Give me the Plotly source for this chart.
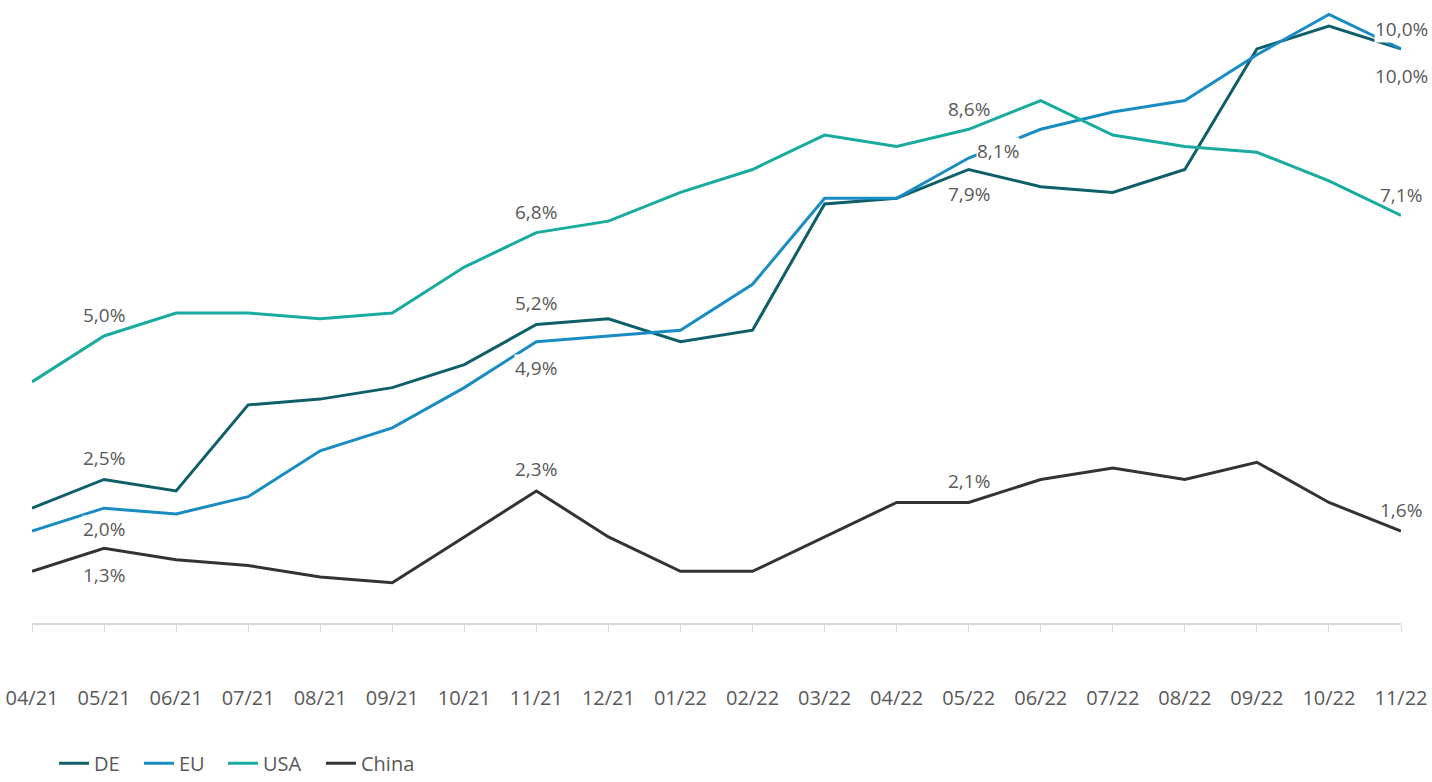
import plotly.graph_objects as go

months = ["04/21", "05/21", "06/21", "07/21", "08/21", "09/21", "10/21", "11/21", "12/21",
          "01/22", "02/22", "03/22", "04/22", "05/22", "06/22", "07/22", "08/22", "09/22",
          "10/22", "11/22"]
de = [2.0, 2.5, 2.3, 3.8, 3.9, 4.1, 4.5, 5.2, 5.3, 4.9, 5.1, 7.3, 7.4, 7.9, 7.6, 7.5, 7.9, 10.0, 10.4, 10.0]
eu = [1.6, 2.0, 1.9, 2.2, 3.0, 3.4, 4.1, 4.9, 5.0, 5.1, 5.9, 7.4, 7.4, 8.1, 8.6, 8.9, 9.1, 9.9, 10.6, 10.0]
usa = [4.2, 5.0, 5.4, 5.4, 5.3, 5.4, 6.2, 6.8, 7.0, 7.5, 7.9, 8.5, 8.3, 8.6, 9.1, 8.5, 8.3, 8.2, 7.7, 7.1]
china = [0.9, 1.3, 1.1, 1.0, 0.8, 0.7, 1.5, 2.3, 1.5, 0.9, 0.9, 1.5, 2.1, 2.1, 2.5, 2.7, 2.5, 2.8, 2.1, 1.6]

series_names = ["DE", "EU", "USA", "China"]
series_values = [de, eu, usa, china]
colors = ["#0f5f6b", "#1a8cc4", "#19ab9f", "#333333"]
legend_ids = ["legend", "legend2", "legend3", "legend4"]
legend_text_x = [93, 178, 262, 360]

# labels: (series index, month index, x shift px, y shift px)
label_specs = [
    (2, 1, 0, 21), (2, 7, 0, 21), (2, 13, 0, 20), (2, 19, 0, 20),
    (0, 1, 0, 21), (0, 7, 0, 21), (0, 13, 0, -25), (0, 19, 0, -27),
    (1, 1, 0, -21), (1, 7, 0, -26), (1, 13, 29, 7), (1, 19, 0, 20),
    (3, 1, 0, -27), (3, 7, 0, 22), (3, 13, 0, 21), (3, 19, 0, 21),
]

fig = go.Figure()
for name, vals, col, lg in zip(series_names, series_values, colors, legend_ids):
    fig.add_trace(go.Scatter(x=months, y=vals, name=name, mode="lines", legend=lg,
                             line=dict(color=col, width=3), cliponaxis=False))

for si, mi, xs, ys in label_specs:
    v = series_values[si][mi]
    txt = f"{v:.1f}".replace(".", ",") + "%"
    bg = "white" if series_names[si] == "EU" else "rgba(0,0,0,0)"
    fig.add_annotation(x=months[mi], y=v, text=txt, showarrow=False,
                       xshift=xs, yshift=ys, bgcolor=bg, borderpad=0,
                       font=dict(family="Open Sans", size=19, color="#595959"))

legend_common = dict(orientation="h", xref="container", xanchor="left",
                     yref="container", y=0.024, yanchor="middle",
                     font=dict(size=20, color="#595959"), bgcolor="rgba(0,0,0,0)")
legends = {}
for lg, tx in zip(legend_ids, legend_text_x):
    legends[lg] = dict(legend_common, x=(tx - 39) / 1432)

fig.update_layout(
    width=1432, height=782,
    margin=dict(l=32, r=31, t=3, b=159),
    paper_bgcolor="white", plot_bgcolor="white",
    font=dict(family="Open Sans", color="#595959"),
    showlegend=True,
    xaxis=dict(type="category", range=[0, len(months) - 1], showgrid=False,
               showline=True, linecolor="#d9d9d9", linewidth=2,
               ticks="outside", ticklen=7, tickcolor="#d9d9d9", tickwidth=1,
               ticklabelstandoff=49, tickfont=dict(size=20, color="#595959"), zeroline=False),
    yaxis=dict(range=[0, 10.8], visible=False, showgrid=False, zeroline=False),
    **legends,
)

fig.write_html("out.html", config={"displayModeBar": False},
               post_script="document.body.style.margin='0';")
